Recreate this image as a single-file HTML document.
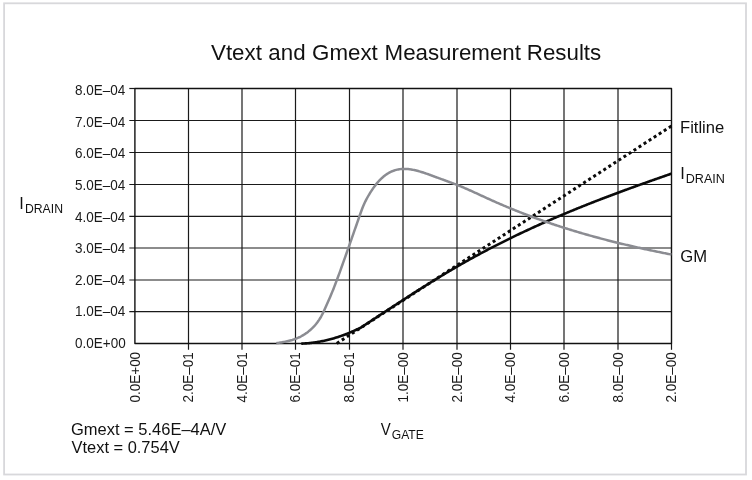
<!DOCTYPE html>
<html><head><meta charset="utf-8"><style>
html,body{margin:0;padding:0;background:#fff;width:752px;height:480px;overflow:hidden}
svg{display:block;will-change:transform;font-family:"Liberation Sans",sans-serif}
</style></head><body>
<svg width="752" height="480" viewBox="0 0 752 480">
<rect x="0" y="0" width="752" height="480" fill="#fff"/>
<rect x="4.1" y="3.3" width="741.9" height="471.2" fill="none" stroke="#d8d8db" stroke-width="1.8"/>
<g fill="#111">
<text transform="translate(211.05,59.96) scale(1.0144,0.9662)" font-size="22"><tspan x="0.00">Vtext</tspan> <tspan x="56.50">and</tspan> <tspan x="99.60">Gmext</tspan> <tspan x="171.05">Measurement</tspan> <tspan x="311.29">Results</tspan></text>
</g>
<g stroke="#1a1a1a" stroke-width="1.2" fill="none">
<line x1="188.50" y1="88.50" x2="188.50" y2="349.80"/>
<line x1="242.00" y1="88.50" x2="242.00" y2="349.80"/>
<line x1="295.50" y1="88.50" x2="295.50" y2="349.80"/>
<line x1="349.50" y1="88.50" x2="349.50" y2="349.80"/>
<line x1="403.00" y1="88.50" x2="403.00" y2="349.80"/>
<line x1="457.00" y1="88.50" x2="457.00" y2="349.80"/>
<line x1="510.50" y1="88.50" x2="510.50" y2="349.80"/>
<line x1="564.00" y1="88.50" x2="564.00" y2="349.80"/>
<line x1="618.00" y1="88.50" x2="618.00" y2="349.80"/>
<line x1="671.50" y1="343.50" x2="671.50" y2="349.80"/>
<line x1="129.30" y1="311.60" x2="671.50" y2="311.60"/>
<line x1="129.30" y1="280.00" x2="671.50" y2="280.00"/>
<line x1="129.30" y1="248.00" x2="671.50" y2="248.00"/>
<line x1="129.30" y1="216.30" x2="671.50" y2="216.30"/>
<line x1="129.30" y1="184.50" x2="671.50" y2="184.50"/>
<line x1="129.30" y1="152.50" x2="671.50" y2="152.50"/>
<line x1="129.30" y1="120.50" x2="671.50" y2="120.50"/>
<line x1="129.30" y1="88.50" x2="134.90" y2="88.50"/>
</g>
<path d="M134.90,88.50 H671.50 V343.50 H134.90 Z" fill="none" stroke="#111" stroke-width="1.4" stroke-linejoin="round"/>
<g font-size="13.5" fill="#1a1a1a">
<text transform="translate(75.00,348.00) scale(1.0,1.09)">0.0E+00</text>
<text transform="translate(75.00,316.00) scale(1.0,1.09)">1.0E–04</text>
<text transform="translate(75.00,285.00) scale(1.0,1.09)">2.0E–04</text>
<text transform="translate(75.00,253.00) scale(1.0,1.09)">3.0E–04</text>
<text transform="translate(75.00,222.00) scale(1.0,1.09)">4.0E–04</text>
<text transform="translate(75.00,190.00) scale(1.0,1.09)">5.0E–04</text>
<text transform="translate(75.00,158.00) scale(1.0,1.09)">6.0E–04</text>
<text transform="translate(75.00,127.00) scale(1.0,1.09)">7.0E–04</text>
<text transform="translate(75.00,95.00) scale(1.0,1.09)">8.0E–04</text>
</g>
<g font-size="13.5" fill="#1a1a1a">
<text transform="translate(139.50,402.4) rotate(-90) scale(0.998,1.1)">0.0E+00</text>
<text transform="translate(193.10,402.4) rotate(-90) scale(0.998,1.1)">2.0E–01</text>
<text transform="translate(246.60,402.4) rotate(-90) scale(0.998,1.1)">4.0E–01</text>
<text transform="translate(300.10,402.4) rotate(-90) scale(0.998,1.1)">6.0E–01</text>
<text transform="translate(354.10,402.4) rotate(-90) scale(0.998,1.1)">8.0E–01</text>
<text transform="translate(407.60,402.4) rotate(-90) scale(0.998,1.1)">1.0E–00</text>
<text transform="translate(461.60,402.4) rotate(-90) scale(0.998,1.1)">2.0E–00</text>
<text transform="translate(515.10,402.4) rotate(-90) scale(0.998,1.1)">4.0E–00</text>
<text transform="translate(568.60,402.4) rotate(-90) scale(0.998,1.1)">6.0E–00</text>
<text transform="translate(622.60,402.4) rotate(-90) scale(0.998,1.1)">8.0E–00</text>
<text transform="translate(676.10,402.4) rotate(-90) scale(0.998,1.1)">2.0E–00</text>
</g>
<path d="M301.30,343.62 L302.30,343.58 L303.30,343.54 L304.30,343.49 L305.30,343.42 L306.30,343.36 L307.30,343.28 L308.30,343.19 L309.30,343.10 L310.30,343.00 L311.30,342.89 L312.30,342.77 L313.30,342.64 L314.30,342.51 L315.30,342.37 L316.30,342.22 L317.30,342.06 L318.30,341.89 L319.30,341.72 L320.30,341.53 L321.30,341.34 L322.30,341.15 L323.30,340.94 L324.30,340.73 L325.30,340.50 L326.30,340.27 L327.30,340.04 L328.30,339.79 L329.30,339.54 L330.30,339.28 L331.30,339.01 L332.30,338.73 L333.30,338.44 L334.30,338.15 L335.30,337.85 L336.30,337.54 L337.30,337.23 L338.30,336.90 L339.30,336.57 L340.30,336.23 L341.30,335.88 L342.30,335.53 L343.30,335.17 L344.30,334.80 L345.30,334.42 L346.30,334.03 L347.30,333.64 L348.30,333.24 L349.30,332.83 L350.30,332.41 L351.30,331.99 L352.30,331.56 L353.30,331.12 L354.30,330.67 L355.30,330.22 L356.30,329.76 L357.30,329.29 L358.30,328.81 L359.20,328.38 L360.20,328.04 L361.20,327.39 L362.20,326.73 L363.20,326.08 L364.20,325.43 L365.20,324.77 L366.20,324.12 L367.20,323.46 L368.20,322.81 L369.20,322.15 L370.20,321.49 L371.20,320.84 L372.20,320.18 L373.20,319.53 L374.20,318.87 L375.20,318.21 L376.20,317.56 L377.20,316.90 L378.20,316.25 L379.20,315.59 L380.20,314.93 L381.20,314.28 L382.20,313.62 L383.20,312.97 L384.20,312.31 L385.20,311.66 L386.20,311.00 L387.20,310.35 L388.20,309.69 L389.20,309.04 L390.20,308.38 L391.20,307.73 L392.20,307.08 L393.20,306.42 L394.20,305.77 L395.20,305.12 L396.20,304.47 L397.20,303.82 L398.20,303.17 L399.20,302.52 L400.20,301.87 L401.20,301.22 L402.20,300.57 L403.20,299.92 L404.20,299.28 L405.20,298.63 L406.20,297.99 L407.20,297.34 L408.20,296.70 L409.20,296.05 L410.20,295.41 L411.20,294.77 L412.20,294.13 L413.20,293.49 L414.20,292.85 L415.20,292.21 L416.20,291.57 L417.20,290.94 L418.20,290.30 L419.20,289.67 L420.20,289.03 L421.20,288.40 L422.20,287.77 L423.20,287.14 L424.20,286.51 L425.20,285.88 L426.20,285.25 L427.20,284.63 L428.20,284.00 L429.20,283.38 L430.20,282.76 L431.20,282.14 L432.20,281.52 L433.20,280.90 L434.20,280.28 L435.20,279.67 L436.20,279.05 L437.20,278.44 L438.20,277.83 L439.20,277.22 L440.20,276.61 L441.20,276.01 L442.20,275.40 L443.20,274.80 L444.20,274.20 L445.20,273.59 L446.20,273.00 L447.20,272.40 L448.20,271.80 L449.20,271.21 L450.20,270.62 L451.20,270.03 L452.20,269.44 L453.20,268.85 L454.20,268.27 L455.20,267.68 L456.20,267.10 L457.20,266.52 L458.20,265.94 L459.20,265.37 L460.20,264.80 L461.20,264.22 L462.20,263.65 L463.20,263.09 L464.20,262.52 L465.20,261.95 L466.20,261.39 L467.20,260.83 L468.20,260.27 L469.20,259.71 L470.20,259.16 L471.20,258.61 L472.20,258.05 L473.20,257.50 L474.20,256.95 L475.20,256.41 L476.20,255.86 L477.20,255.32 L478.20,254.78 L479.20,254.24 L480.20,253.70 L481.20,253.17 L482.20,252.63 L483.20,252.10 L484.20,251.57 L485.20,251.04 L486.20,250.51 L487.20,249.98 L488.20,249.46 L489.20,248.94 L490.20,248.42 L491.20,247.90 L492.20,247.38 L493.20,246.86 L494.20,246.35 L495.20,245.84 L496.20,245.33 L497.20,244.82 L498.20,244.31 L499.20,243.80 L500.20,243.30 L501.20,242.79 L502.20,242.29 L503.20,241.79 L504.20,241.29 L505.20,240.80 L506.20,240.30 L507.20,239.81 L508.20,239.31 L509.20,238.82 L510.20,238.33 L511.20,237.84 L512.20,237.36 L513.20,236.87 L514.20,236.39 L515.20,235.91 L516.20,235.43 L517.20,234.95 L518.20,234.47 L519.20,233.99 L520.20,233.52 L521.20,233.04 L522.20,232.57 L523.20,232.10 L524.20,231.63 L525.20,231.16 L526.20,230.70 L527.20,230.23 L528.20,229.77 L529.20,229.31 L530.20,228.85 L531.20,228.39 L532.20,227.93 L533.20,227.47 L534.20,227.01 L535.20,226.56 L536.20,226.11 L537.20,225.65 L538.20,225.20 L539.20,224.75 L540.20,224.31 L541.20,223.86 L542.20,223.41 L543.20,222.97 L544.20,222.53 L545.20,222.09 L546.20,221.64 L547.20,221.21 L548.20,220.77 L549.20,220.33 L550.20,219.89 L551.20,219.46 L552.20,219.03 L553.20,218.59 L554.20,218.16 L555.20,217.73 L556.20,217.31 L557.20,216.88 L558.20,216.45 L559.20,216.03 L560.20,215.60 L561.20,215.18 L562.20,214.76 L563.20,214.34 L564.20,213.92 L565.20,213.50 L566.20,213.08 L567.20,212.66 L568.20,212.25 L569.20,211.83 L570.20,211.42 L571.20,211.01 L572.20,210.60 L573.20,210.19 L574.20,209.78 L575.20,209.37 L576.20,208.96 L577.20,208.56 L578.20,208.15 L579.20,207.75 L580.20,207.34 L581.20,206.94 L582.20,206.54 L583.20,206.14 L584.20,205.74 L585.20,205.34 L586.20,204.94 L587.20,204.55 L588.20,204.15 L589.20,203.76 L590.20,203.36 L591.20,202.97 L592.20,202.58 L593.20,202.19 L594.20,201.80 L595.20,201.41 L596.20,201.02 L597.20,200.63 L598.20,200.24 L599.20,199.86 L600.20,199.47 L601.20,199.09 L602.20,198.70 L603.20,198.32 L604.20,197.94 L605.20,197.56 L606.20,197.18 L607.20,196.80 L608.20,196.42 L609.20,196.04 L610.20,195.66 L611.20,195.28 L612.20,194.91 L613.20,194.53 L614.20,194.16 L615.20,193.78 L616.20,193.41 L617.20,193.04 L618.20,192.67 L619.20,192.30 L620.20,191.93 L621.20,191.56 L622.20,191.19 L623.20,190.82 L624.20,190.45 L625.20,190.08 L626.20,189.72 L627.20,189.35 L628.20,188.98 L629.20,188.62 L630.20,188.26 L631.20,187.89 L632.20,187.53 L633.20,187.17 L634.20,186.80 L635.20,186.44 L636.20,186.08 L637.20,185.72 L638.20,185.36 L639.20,185.00 L640.20,184.64 L641.20,184.29 L642.20,183.93 L643.20,183.57 L644.20,183.21 L645.20,182.86 L646.20,182.50 L647.20,182.15 L648.20,181.79 L649.20,181.44 L650.20,181.08 L651.20,180.73 L652.20,180.38 L653.20,180.03 L654.20,179.67 L655.20,179.32 L656.20,178.97 L657.20,178.62 L658.20,178.27 L659.20,177.92 L660.20,177.57 L661.20,177.22 L662.20,176.87 L663.20,176.52 L664.20,176.17 L665.20,175.82 L666.20,175.48 L667.20,175.13 L668.20,174.78 L669.20,174.43 L670.20,174.09 L671.20,173.74 L671.40,173.67" fill="none" stroke="#0a0a0a" stroke-width="2.6" stroke-linejoin="round"/>
<path d="M336.8,343.4 L671.4,126.0" fill="none" stroke="#0a0a0a" stroke-width="3" stroke-dasharray="3 3"/>
<path d="M276.25,343.23 L277.25,343.07 L278.25,342.90 L279.25,342.74 L280.25,342.58 L281.25,342.41 L282.25,342.24 L283.25,342.06 L284.25,341.87 L285.25,341.67 L286.25,341.47 L287.25,341.25 L288.25,341.02 L289.25,340.78 L290.25,340.52 L291.25,340.24 L292.25,339.95 L293.25,339.63 L294.25,339.30 L295.25,338.94 L296.25,338.56 L297.25,338.15 L298.25,337.72 L299.25,337.26 L300.25,336.77 L301.25,336.25 L302.25,335.70 L303.25,335.11 L304.25,334.49 L305.25,333.84 L306.25,333.15 L307.25,332.42 L308.25,331.65 L309.25,330.84 L310.25,329.99 L311.25,329.09 L312.25,328.15 L313.25,327.15 L314.25,326.10 L315.25,324.98 L316.25,323.78 L317.25,322.49 L318.25,321.10 L319.25,319.61 L320.25,318.01 L321.25,316.28 L322.25,314.41 L323.25,312.41 L324.25,310.27 L325.25,308.03 L326.25,305.76 L327.25,303.49 L328.25,301.24 L329.25,298.98 L330.25,296.68 L331.25,294.32 L332.25,291.89 L333.25,289.41 L334.25,286.88 L335.25,284.29 L336.25,281.66 L337.25,279.00 L338.25,276.30 L339.25,273.57 L340.25,270.81 L341.25,268.04 L342.25,265.25 L343.25,262.45 L344.25,259.64 L345.25,256.83 L346.25,254.00 L347.25,251.17 L348.25,248.33 L349.25,245.49 L350.25,242.64 L351.25,239.79 L352.25,236.93 L353.25,234.07 L354.25,231.21 L355.25,228.34 L356.25,225.48 L357.25,222.61 L358.25,219.75 L359.25,216.88 L360.25,214.03 L361.25,211.23 L362.25,208.55 L363.25,206.03 L364.25,203.71 L365.25,201.58 L366.25,199.60 L367.25,197.76 L368.25,196.00 L369.25,194.32 L370.25,192.69 L371.25,191.11 L372.25,189.59 L373.25,188.13 L374.25,186.74 L375.25,185.40 L376.25,184.12 L377.25,182.91 L378.25,181.75 L379.25,180.65 L380.25,179.62 L381.25,178.63 L382.25,177.71 L383.25,176.84 L384.25,176.02 L385.25,175.25 L386.25,174.53 L387.25,173.87 L388.25,173.25 L389.25,172.67 L390.25,172.15 L391.25,171.67 L392.25,171.23 L393.25,170.83 L394.25,170.47 L395.25,170.16 L396.25,169.88 L397.25,169.64 L398.25,169.44 L399.25,169.27 L400.25,169.13 L401.25,169.03 L402.25,168.96 L403.25,168.92 L404.25,168.90 L405.25,168.92 L406.25,168.96 L407.25,169.02 L408.25,169.11 L409.25,169.23 L410.25,169.36 L411.25,169.52 L412.25,169.69 L413.25,169.88 L414.25,170.09 L415.25,170.32 L416.25,170.55 L417.25,170.81 L418.25,171.07 L419.25,171.35 L420.25,171.63 L421.25,171.93 L422.25,172.24 L423.25,172.56 L424.25,172.88 L425.25,173.22 L426.25,173.56 L427.25,173.91 L428.25,174.26 L429.25,174.62 L430.25,174.98 L431.25,175.34 L432.25,175.71 L433.25,176.09 L434.25,176.46 L435.25,176.83 L436.25,177.21 L437.25,177.58 L438.25,177.95 L439.25,178.32 L440.25,178.69 L441.25,179.06 L442.25,179.42 L443.25,179.78 L444.25,180.15 L445.25,180.51 L446.25,180.87 L447.25,181.23 L448.25,181.59 L449.25,181.95 L450.25,182.32 L451.25,182.68 L452.25,183.06 L453.25,183.43 L454.25,183.81 L455.25,184.19 L456.25,184.58 L457.25,184.97 L458.25,185.37 L459.25,185.78 L460.25,186.19 L461.25,186.60 L462.25,187.02 L463.25,187.44 L464.25,187.87 L465.25,188.30 L466.25,188.73 L467.25,189.17 L468.25,189.61 L469.25,190.06 L470.25,190.51 L471.25,190.96 L472.25,191.41 L473.25,191.86 L474.25,192.32 L475.25,192.77 L476.25,193.23 L477.25,193.69 L478.25,194.15 L479.25,194.62 L480.25,195.08 L481.25,195.54 L482.25,196.00 L483.25,196.46 L484.25,196.92 L485.25,197.38 L486.25,197.84 L487.25,198.30 L488.25,198.76 L489.25,199.21 L490.25,199.66 L491.25,200.12 L492.25,200.56 L493.25,201.01 L494.25,201.46 L495.25,201.90 L496.25,202.34 L497.25,202.78 L498.25,203.21 L499.25,203.65 L500.25,204.08 L501.25,204.51 L502.25,204.94 L503.25,205.36 L504.25,205.79 L505.25,206.21 L506.25,206.63 L507.25,207.05 L508.25,207.47 L509.25,207.88 L510.25,208.29 L511.25,208.70 L512.25,209.11 L513.25,209.52 L514.25,209.92 L515.25,210.33 L516.25,210.73 L517.25,211.13 L518.25,211.52 L519.25,211.92 L520.25,212.31 L521.25,212.70 L522.25,213.09 L523.25,213.48 L524.25,213.86 L525.25,214.25 L526.25,214.63 L527.25,215.01 L528.25,215.39 L529.25,215.77 L530.25,216.14 L531.25,216.51 L532.25,216.88 L533.25,217.25 L534.25,217.62 L535.25,217.99 L536.25,218.35 L537.25,218.71 L538.25,219.08 L539.25,219.43 L540.25,219.79 L541.25,220.15 L542.25,220.50 L543.25,220.85 L544.25,221.20 L545.25,221.55 L546.25,221.90 L547.25,222.24 L548.25,222.59 L549.25,222.93 L550.25,223.27 L551.25,223.61 L552.25,223.94 L553.25,224.28 L554.25,224.61 L555.25,224.95 L556.25,225.28 L557.25,225.61 L558.25,225.93 L559.25,226.26 L560.25,226.58 L561.25,226.91 L562.25,227.23 L563.25,227.55 L564.25,227.86 L565.25,228.18 L566.25,228.49 L567.25,228.81 L568.25,229.12 L569.25,229.43 L570.25,229.74 L571.25,230.05 L572.25,230.35 L573.25,230.66 L574.25,230.96 L575.25,231.26 L576.25,231.56 L577.25,231.86 L578.25,232.16 L579.25,232.45 L580.25,232.74 L581.25,233.04 L582.25,233.33 L583.25,233.62 L584.25,233.91 L585.25,234.19 L586.25,234.48 L587.25,234.76 L588.25,235.05 L589.25,235.33 L590.25,235.61 L591.25,235.89 L592.25,236.17 L593.25,236.44 L594.25,236.72 L595.25,236.99 L596.25,237.26 L597.25,237.53 L598.25,237.80 L599.25,238.07 L600.25,238.34 L601.25,238.60 L602.25,238.87 L603.25,239.13 L604.25,239.39 L605.25,239.65 L606.25,239.91 L607.25,240.17 L608.25,240.43 L609.25,240.69 L610.25,240.94 L611.25,241.19 L612.25,241.45 L613.25,241.70 L614.25,241.95 L615.25,242.20 L616.25,242.44 L617.25,242.69 L618.25,242.94 L619.25,243.18 L620.25,243.42 L621.25,243.67 L622.25,243.91 L623.25,244.15 L624.25,244.38 L625.25,244.62 L626.25,244.86 L627.25,245.09 L628.25,245.33 L629.25,245.56 L630.25,245.79 L631.25,246.03 L632.25,246.26 L633.25,246.48 L634.25,246.71 L635.25,246.94 L636.25,247.17 L637.25,247.39 L638.25,247.61 L639.25,247.84 L640.25,248.06 L641.25,248.28 L642.25,248.50 L643.25,248.72 L644.25,248.94 L645.25,249.16 L646.25,249.37 L647.25,249.59 L648.25,249.80 L649.25,250.02 L650.25,250.23 L651.25,250.44 L652.25,250.65 L653.25,250.86 L654.25,251.07 L655.25,251.28 L656.25,251.49 L657.25,251.69 L658.25,251.90 L659.25,252.10 L660.25,252.31 L661.25,252.51 L662.25,252.71 L663.25,252.92 L664.25,253.12 L665.25,253.32 L666.25,253.52 L667.25,253.71 L668.25,253.91 L669.25,254.11 L670.25,254.31 L671.25,254.50 L671.40,254.53" fill="none" stroke="#8b8c92" stroke-width="2.5" stroke-linejoin="round"/>
<g fill="#111">
<text transform="translate(19.27,208.50) scale(1.0182,1.0182)" font-size="16">I</text>
<text transform="translate(24.98,212.70) scale(1.0184,1.0303)" font-size="12">DRAIN</text>
<text transform="translate(680.00,132.68) scale(1.0380,1.0194)" font-size="16">Fitline</text>
<text transform="translate(680.16,178.60) scale(1.0273,1.0273)" font-size="16">I</text>
<text transform="translate(685.75,182.80) scale(1.0496,1.0424)" font-size="12">DRAIN</text>
<text transform="translate(680.32,262.15) scale(1.0400,1.0087)" font-size="16">GM</text>
<text transform="translate(70.93,434.81) scale(1.0317,0.9787)" font-size="16">Gmext = 5.46E–4A/V</text>
<text transform="translate(71.50,452.58) scale(1.0280,1.0231)" font-size="16">Vtext = 0.754V</text>
<text transform="translate(380.80,434.60) scale(0.9333,1.0545)" font-size="16">V</text>
<text transform="translate(391.80,438.70) scale(1.0081,1.0424)" font-size="12">GATE</text>
</g>
</svg>
</body></html>
